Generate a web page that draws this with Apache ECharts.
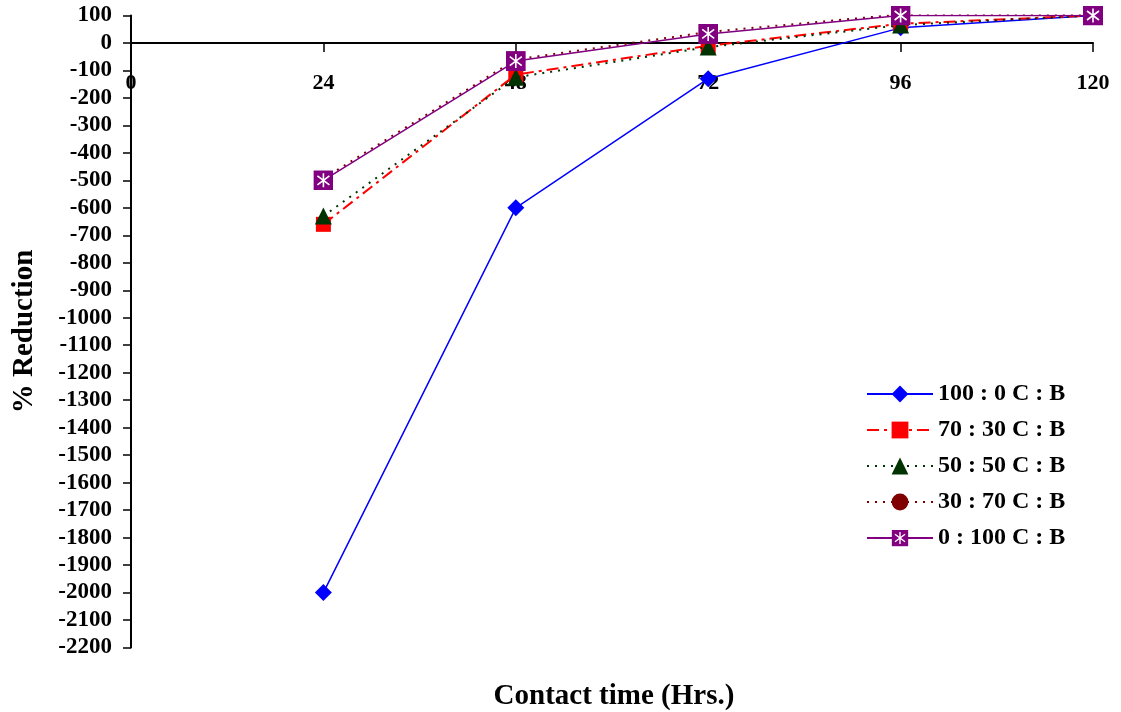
<!DOCTYPE html>
<html>
<head>
<meta charset="utf-8">
<script src="https://cdn.jsdelivr.net/npm/echarts@6/dist/echarts.min.js"></script>
<style>
  html, body { margin: 0; padding: 0; background: #fff; }
  #chart { width: 1121px; height: 712px; }
</style>
</head>
<body>
<div id="chart"></div>
<script>
// Contact time in hours
const hours = [24, 48, 72, 96, 120];
// % reduction for each C : B ratio
const ratio100_0 = [-2000, -600, -130, 55, 100];
const ratio70_30 = [-660, -115, -10, 70, 100];
const ratio50_50 = [-630, -125, -15, 65, 100];
const ratio30_70 = [-493, -60, 40, 104, 103];
const ratio0_100 = [-500, -66, 33, 100, 100];

const seriesNames = ['100 : 0 C : B', '70 : 30 C : B', '50 : 50 C : B', '30 : 70 C : B', '0 : 100 C : B'];

const Y_MIN = -2200, Y_MAX = 100, Y_STEP = 100;
const X_MIN = 0, X_MAX = 120, X_STEP = 24;

const FONT = '"Liberation Serif", "Times New Roman", serif';

// plot area
const GRID_TOP = 15.5, GRID_BOTTOM = 64.5, GRID_LEFT = 131, GRID_RIGHT = 28;
const gridHeight = 712 - GRID_TOP - GRID_BOTTOM;
// the hours axis runs along the zero line
const zeroOffset = gridHeight * (Y_MAX - 0) / (Y_MAX - Y_MIN);

// purple square with white asterisk marker
const starSquareSvg = "<svg xmlns='http://www.w3.org/2000/svg' width='20' height='20'>" +
  "<rect width='20' height='20' fill='#800080'/>" +
  "<path d='M10 3V17M4 5.5L16 14.5M16 5.5L4 14.5' stroke='#ffffff' stroke-width='1.6' fill='none'/></svg>";
const starSquare = 'image://data:image/svg+xml;charset=utf-8,' + encodeURIComponent(starSquareSvg);

const pairs = vals => hours.map((h, i) => [h, vals[i]]);

const chart = echarts.init(document.getElementById('chart'), null, { renderer: 'canvas' });

chart.setOption({
  animation: false,
  backgroundColor: '#ffffff',
  textStyle: { fontFamily: FONT },
  grid: { left: GRID_LEFT, right: GRID_RIGHT, top: GRID_TOP, bottom: GRID_BOTTOM, containLabel: false },
  title: {
    text: 'Contact time (Hrs.)',
    left: 609, top: 677, textAlign: 'center',
    textStyle: { fontFamily: FONT, fontWeight: 'bold', fontSize: 29, color: '#000' }
  },
  legend: {
    orient: 'vertical',
    left: 861, top: 377,
    itemWidth: 66, itemHeight: 21, itemGap: 12,
    textStyle: { fontFamily: FONT, fontWeight: 'bold', fontSize: 24, color: '#000' },
    data: seriesNames
  },
  xAxis: {
    type: 'value', min: X_MIN, max: X_MAX, interval: X_STEP,
    position: 'top', offset: -zeroOffset,
    axisLine: { onZero: false, lineStyle: { color: '#000', width: 2 } },
    axisTick: { show: true, inside: true, length: 9, lineStyle: { color: '#000', width: 1.5 } },
    axisLabel: { inside: true, margin: 29, fontFamily: FONT, fontWeight: 'bold', fontSize: 22, color: '#000' },
    splitLine: { show: false }
  },
  yAxis: {
    type: 'value', min: Y_MIN, max: Y_MAX, interval: Y_STEP,
    name: '% Reduction', nameLocation: 'middle', nameGap: 92, nameRotate: 90,
    nameTextStyle: { fontFamily: FONT, fontWeight: 'bold', fontSize: 29, color: '#000' },
    axisLine: { show: true, onZero: false, lineStyle: { color: '#000', width: 2 } },
    axisTick: { show: true, length: 8, lineStyle: { color: '#000', width: 1.5 } },
    axisLabel: { margin: 19, fontFamily: FONT, fontWeight: 'bold', fontSize: 23, color: '#000',
                 formatter: v => String(v) },
    splitLine: { show: false }
  },
  series: [
    {
      name: seriesNames[0], type: 'line', data: pairs(ratio100_0),
      symbol: 'diamond', symbolSize: 17, color: '#0000ff',
      lineStyle: { color: '#0000ff', width: 1.5, type: 'solid' },
      itemStyle: { color: '#0000ff' }, z: 2
    },
    {
      name: seriesNames[1], type: 'line', data: pairs(ratio70_30),
      symbol: 'rect', symbolSize: 15, color: '#ff0000',
      lineStyle: { color: '#ff0000', width: 2, type: [12, 5, 3, 5] },
      itemStyle: { color: '#ff0000' }, z: 3
    },
    {
      name: seriesNames[2], type: 'line', data: pairs(ratio50_50),
      symbol: 'triangle', symbolSize: 17, color: '#003300',
      lineStyle: { color: '#003300', width: 2, type: [2, 6] },
      itemStyle: { color: '#003300' }, z: 4
    },
    {
      name: seriesNames[3], type: 'line', data: pairs(ratio30_70),
      symbol: 'circle', symbolSize: 15, color: '#800000',
      lineStyle: { color: '#800000', width: 2, type: [2, 6] },
      itemStyle: { color: '#800000' }, z: 5
    },
    {
      name: seriesNames[4], type: 'line', data: pairs(ratio0_100),
      symbol: starSquare, symbolSize: 20, color: '#800080',
      lineStyle: { color: '#800080', width: 1.5, type: 'solid' },
      itemStyle: { color: '#800080' }, z: 6
    }
  ]
});
</script>
</body>
</html>
